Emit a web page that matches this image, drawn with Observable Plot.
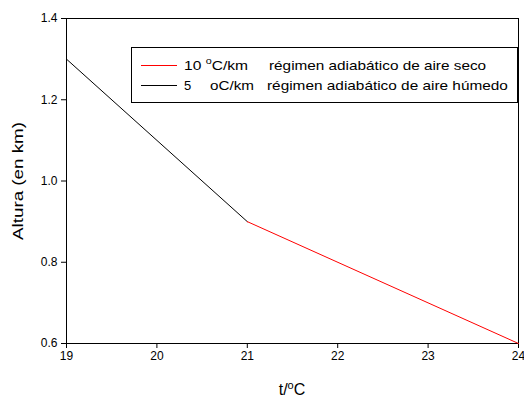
<!DOCTYPE html>
<html><head><meta charset="utf-8">
<script src="https://cdn.jsdelivr.net/npm/d3@7"></script>
<script src="https://cdn.jsdelivr.net/npm/@observablehq/plot@0.6"></script>
<style>
body{margin:0;background:#fff;font-family:"Liberation Sans",Arial,sans-serif}
#wrap{position:relative;width:524px;height:399px}
#legend{position:absolute;left:131px;top:47px;width:387px;height:56px;border:1px solid #000;box-sizing:border-box;background:#fff;font-size:13px;color:#000}
#legend svg{position:absolute;left:0;top:0}
#legend span{position:absolute;white-space:nowrap;line-height:16px;transform-origin:0 50%}
sup{font-size:9px;vertical-align:6px;line-height:0}
</style></head>
<body><div id="wrap"></div>
<script>
const tempSeco = [21, 24];
const altSeco = [0.9, 0.6];
const tempHumedo = [19, 21];
const altHumedo = [1.3, 0.9];
const xTicks = [19, 20, 21, 22, 23, 24];
const yTicks = [0.6, 0.8, 1.0, 1.2, 1.4];
const seriesColors = ["#ff0000", "#000000"];

const seco = tempSeco.map((t, i) => ({t, a: altSeco[i]}));
const humedo = tempHumedo.map((t, i) => ({t, a: altHumedo[i]}));

const chart = Plot.plot({
  width: 524, height: 399,
  marginLeft: 66, marginRight: 6, marginTop: 18, marginBottom: 56,
  style: {fontFamily: '"Liberation Sans",Arial,sans-serif', fontSize: "12px", color: "#000", background: "#fff"},
  x: {domain: [19, 24]},
  y: {domain: [0.6, 1.4]},
  marks: [
    Plot.frame({stroke: "#000", strokeWidth: 1}),
    Plot.axisX({ticks: xTicks, tickSize: 5, tickPadding: 3, tickFormat: d => String(d), label: null, fontSize: 12}),
    Plot.axisY({ticks: yTicks, tickSize: 5, tickPadding: 4, tickFormat: d => d.toFixed(1), label: null, fontSize: 12}),
    Plot.line(humedo, {x: "t", y: "a", stroke: seriesColors[1], strokeWidth: 1}),
    Plot.line(seco, {x: "t", y: "a", stroke: seriesColors[0], strokeWidth: 1})
  ]
});
document.getElementById("wrap").appendChild(chart);
const svg = d3.select(chart);
const ff = '"Liberation Sans",Arial,sans-serif';
svg.append("text")
  .attr("transform", "translate(23,181) rotate(-90)")
  .attr("text-anchor", "middle")
  .attr("textLength", 118).attr("lengthAdjust", "spacingAndGlyphs")
  .style("font-size", "15px").style("font-family", ff)
  .text("Altura (en km)");
const xl = svg.append("text").attr("x", 292).attr("y", 395).attr("text-anchor", "middle")
  .style("font-size", "16px").style("font-family", ff);
xl.append("tspan").text("t/");
xl.append("tspan").attr("dy", -6).style("font-size", "11px").text("o");
xl.append("tspan").attr("dy", 6).text("C");

const lg = document.createElement("div");
lg.id = "legend";
lg.innerHTML = `
<svg width="60" height="54" shape-rendering="crispEdges">
<line x1="9" x2="45" y1="17.5" y2="17.5" stroke="${seriesColors[0]}" stroke-width="1"/>
<line x1="9" x2="45" y1="37.5" y2="37.5" stroke="${seriesColors[1]}" stroke-width="1"/>
</svg>
<span data-w="64" style="left:52px;top:10px">10 <sup>o</sup>C/km</span>
<span data-w="217" style="left:137px;top:10px">régimen adiabático de aire seco</span>
<span style="left:52px;top:30px">5</span>
<span data-w="44" style="left:78px;top:30px">oC/km</span>
<span data-w="241" style="left:135px;top:30px">régimen adiabático de aire húmedo</span>`;
document.getElementById("wrap").appendChild(lg);
lg.querySelectorAll("span[data-w]").forEach(s => {
  const w = s.getBoundingClientRect().width;
  s.style.transform = `scaleX(${(+s.dataset.w / w).toFixed(3)})`;
});
</script>
</body></html>
